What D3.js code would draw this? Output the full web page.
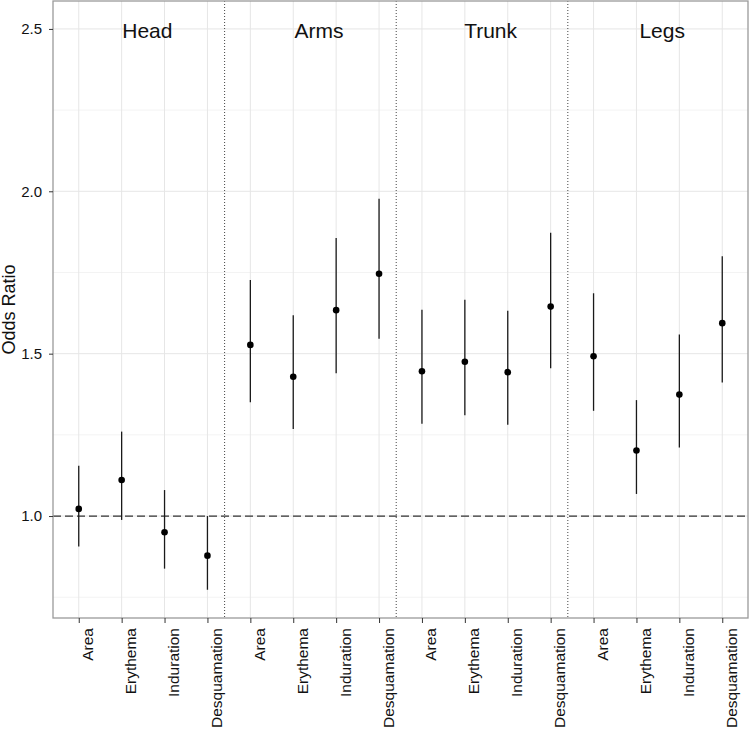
<!DOCTYPE html>
<html>
<head>
<meta charset="utf-8">
<script src="https://cdn.jsdelivr.net/npm/d3@7"></script>
<style>
  html, body { margin: 0; padding: 0; background: #fff; }
  svg { display: block; font-family: "Liberation Sans", Arial, sans-serif; }
</style>
</head>
<body>
<svg id="chart" width="750" height="729"></svg>
<script>
// ---- data ----
const regions = ["Head", "Arms", "Trunk", "Legs"];
const measures = ["Area", "Erythema", "Induration", "Desquamation"];
const oddsRatio = [
  1.022, 1.111, 0.950, 0.878,   // Head
  1.527, 1.429, 1.634, 1.746,   // Arms
  1.446, 1.475, 1.443, 1.645,   // Trunk
  1.492, 1.202, 1.374, 1.594    // Legs
];
const lower = [
  0.906, 0.988, 0.838, 0.773,
  1.350, 1.268, 1.440, 1.546,
  1.284, 1.310, 1.281, 1.455,
  1.324, 1.068, 1.211, 1.411
];
const upper = [
  1.155, 1.260, 1.080, 1.000,
  1.727, 1.618, 1.856, 1.977,
  1.635, 1.666, 1.632, 1.872,
  1.686, 1.357, 1.559, 1.800
];
const yTicks = [1.0, 1.5, 2.0, 2.5];
const yMinor = [0.75, 1.25, 1.75, 2.25];
const refLine = 1.0;

// ---- build rows ----
const rows = [];
regions.forEach((r, ri) => measures.forEach((m, mi) => {
  const i = ri * measures.length + mi;
  rows.push({ i, region: r, measure: m, or: oddsRatio[i], lo: lower[i], hi: upper[i] });
}));

const svg = d3.select("#chart");
const L = 53, R = 748, T = 1, B = 618;

const x = d3.scaleLinear().domain([-0.6, rows.length - 1 + 0.6]).range([L, R]);
const y = d3.scaleLinear().domain([0.686, 2.586]).range([B, T]);

// grid
const g = svg.append("g");
g.selectAll(".minor").data(yMinor).join("line")
  .attr("x1", L).attr("x2", R)
  .attr("y1", d => y(d)).attr("y2", d => y(d))
  .attr("stroke", "#f3f3f3").attr("stroke-width", 1);
g.selectAll(".major").data(yTicks).join("line")
  .attr("x1", L).attr("x2", R)
  .attr("y1", d => y(d)).attr("y2", d => y(d))
  .attr("stroke", "#e6e6e6").attr("stroke-width", 1);
g.selectAll(".vmajor").data(rows).join("line")
  .attr("x1", d => x(d.i)).attr("x2", d => x(d.i))
  .attr("y1", T).attr("y2", B)
  .attr("stroke", "#e6e6e6").attr("stroke-width", 1);

// region separators (dotted)
const seps = regions.slice(1).map((r, k) => (k + 1) * measures.length - 0.6);
g.selectAll(".sep").data(seps).join("line")
  .attr("x1", d => x(d)).attr("x2", d => x(d))
  .attr("y1", T).attr("y2", B)
  .attr("stroke", "#444").attr("stroke-width", 1)
  .attr("stroke-dasharray", "1,2");

// reference line
g.append("line")
  .attr("x1", L).attr("x2", R)
  .attr("y1", y(refLine)).attr("y2", y(refLine))
  .attr("stroke", "#333").attr("stroke-width", 1.2)
  .attr("stroke-dasharray", "8,4");

// region labels
g.selectAll(".rlab").data(regions).join("text")
  .attr("x", (d, k) => x(k * measures.length + 1.6))
  .attr("y", 38)
  .attr("text-anchor", "middle")
  .attr("font-size", "21px")
  .attr("fill", "#111")
  .text(d => d);

// error bars
g.selectAll(".err").data(rows).join("line")
  .attr("x1", d => x(d.i)).attr("x2", d => x(d.i))
  .attr("y1", d => y(d.lo)).attr("y2", d => y(d.hi))
  .attr("stroke", "#1a1a1a").attr("stroke-width", 1.3);

// points
g.selectAll(".pt").data(rows).join("circle")
  .attr("cx", d => x(d.i)).attr("cy", d => y(d.or))
  .attr("r", 3.3).attr("fill", "#000");

// panel border
svg.append("rect")
  .attr("x", L).attr("y", T).attr("width", R - L).attr("height", B - T)
  .attr("fill", "none").attr("stroke", "#9a9a9a").attr("stroke-width", 1.3);

// y axis
const yAxis = d3.axisLeft(y).tickValues(yTicks).tickFormat(d3.format(".1f"))
  .tickSize(4).tickPadding(7);
const ya = svg.append("g").attr("transform", `translate(${L},0)`).call(yAxis);
ya.select(".domain").remove();
ya.selectAll(".tick line").attr("stroke", "#333");
ya.selectAll(".tick text").attr("font-size", "15px").attr("fill", "#111")
  .attr("font-family", "Liberation Sans, Arial, sans-serif");

// x axis
const xAxis = d3.axisBottom(x).tickValues(rows.map(d => d.i))
  .tickFormat(i => rows[i].measure).tickSize(5);
const xa = svg.append("g").attr("transform", `translate(0,${B})`).call(xAxis);
xa.select(".domain").remove();
xa.selectAll(".tick line").attr("stroke", "#333");
xa.selectAll(".tick text")
  .attr("font-size", "15.5px").attr("fill", "#111")
  .attr("font-family", "Liberation Sans, Arial, sans-serif")
  .attr("text-anchor", "end")
  .attr("dy", null)
  .attr("y", 0)
  .attr("transform", "translate(14,10) rotate(-90)");

// y title
svg.append("text")
  .attr("transform", `translate(15,${(T + B) / 2}) rotate(-90)`)
  .attr("text-anchor", "middle")
  .attr("font-size", "18px").attr("fill", "#111")
  .text("Odds Ratio");
</script>
</body>
</html>
